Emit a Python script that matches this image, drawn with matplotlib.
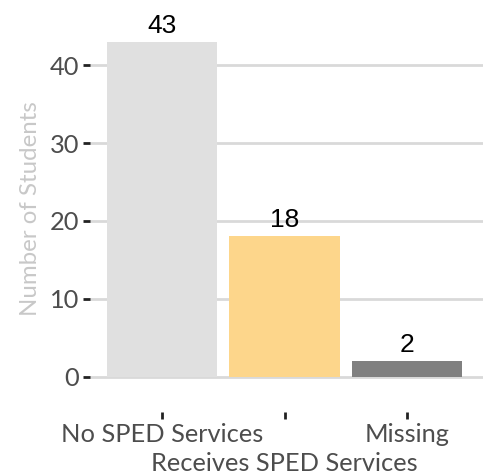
import matplotlib.pyplot as plt

categories = ["No SPED Services", "Receives SPED Services", "Missing"]
counts = [43, 18, 2]
colors = ["#e0e0e0", "#fdd68b", "#808080"]

plt.rcParams['font.family'] = ['Lato', 'DejaVu Sans']

fig = plt.figure(figsize=(4.83, 4.74), dpi=100)
ax = fig.add_axes([90 / 483, 62 / 474, 393 / 483, 387 / 474])

x = list(range(len(categories)))
ax.bar(x, counts, width=0.9, color=colors, zorder=2)
for xi, c in zip(x, counts):
    ax.annotate(str(c), (xi, c), xytext=(0, 3), textcoords='offset points',
                ha='center', va='bottom', fontsize=19,
                family='Liberation Sans', color='black', annotation_clip=False)

ax.set_xlim(-0.588, 2.62)
ax.set_ylim(-4.53, 45.15)
ax.set_yticks([0, 10, 20, 30, 40])
ax.yaxis.grid(True, color='#d9d9d9', linewidth=2, zorder=0)
ax.set_axisbelow(True)

ax.set_xticks(x)
ax.set_xticklabels(categories)

for s in ax.spines.values():
    s.set_visible(False)

ax.tick_params(axis='both', colors='#222222', length=5, width=2,
               labelsize=18.3, labelcolor='#4d4d4d')
ax.tick_params(axis='y', pad=3)

# staggered x labels (dodged in two rows)
for i, t in enumerate(ax.xaxis.get_major_ticks()):
    t.set_pad(3 if i % 2 == 0 else 24)

ax.set_ylabel("Number of Students", color='#c8c8c8', fontsize=17.3)
ax.yaxis.set_label_coords(-0.125, 0.525)

fig.savefig("out.png", dpi=100)
